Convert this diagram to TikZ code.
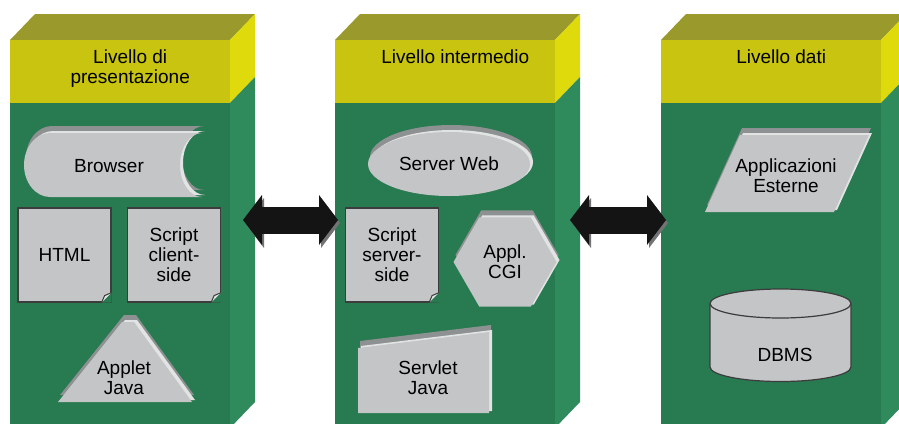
\documentclass[tikz,border=0pt]{standalone}
\usepackage{fontspec}
\setmainfont{Liberation Sans}
\usepackage{xcolor}
\usepackage{tikz}
\usetikzlibrary{arrows, arrows.meta}
\usetikzlibrary{positioning}
\usetikzlibrary{calc}
\usetikzlibrary{shapes.geometric}

\definecolor{topOlive}{HTML}{9A9A2C}
\definecolor{headYellow}{HTML}{C8C410}
\definecolor{sideYellow}{HTML}{DEDA0C}
\definecolor{bodyGreen}{HTML}{287A50}
\definecolor{sideGreen}{HTML}{2F8A5C}
\definecolor{shapeGray}{HTML}{C3C5C6}
\definecolor{shadeDark}{HTML}{8E9192}
\definecolor{shadeLight}{HTML}{E2E4E4}
\definecolor{edgeGray}{HTML}{3C3C3C}

\begin{document}
\begin{tikzpicture}[x=1pt, y=-1pt,
	every node/.style={font=\fontsize{19}{20}\selectfont, align=center, inner sep=0pt},
	face/.style={draw=none, minimum width=220pt, anchor=north west},
	raised/.style={fill=shapeGray,
		preaction={fill=shadeDark, transform canvas={shift={(2pt,7pt)}}},
		preaction={fill=shadeLight, transform canvas={shift={(3pt,2pt)}}}},
	docbox/.style={draw=edgeGray, line width=1.2pt, fill=shapeGray, minimum width=93pt, minimum height=94pt},
	link/.style={line width=27pt, draw=black!92,
		{Triangle[length=19pt, width=50pt, line width=0pt]}-{Triangle[length=19pt, width=50pt, line width=0pt]},
		preaction={draw=black!55, transform canvas={shift={(2pt,-3pt)}}}}]
			\useasboundingbox (0,0) rectangle (899,423);
			\clip (0,0) rectangle (899,423);

			\foreach \xTier [count=\iTier] in {10, 335, 661}
			{
				\fill[topOlive] (\xTier,40) -- ++(25,-26) -- ++(220,0) -- ++(-25,26) -- cycle;
				\fill[sideYellow] (\xTier+220,40) -- ++(25,-26) -- ++(0,63) -- ++(-25,26) -- cycle;
				\fill[sideGreen] (\xTier+220,103) -- ++(25,-26) -- ++(0,325) -- ++(-25,26) -- cycle;
				\node[face, fill=headYellow, minimum height=63pt] (head\iTier) at (\xTier,40) {};
				\node[face, fill=bodyGreen, minimum height=330pt] (tier\iTier) at (\xTier,103) {};
			}
			\foreach \iTier/\tTitle in {1/{Livello di\\presentazione}, 2/{Livello intermedio}, 3/{Livello dati}}
			{
				\node[anchor=north] (title\iTier) at ([xshift=10pt, yshift=-10pt]head\iTier.north) {\tTitle};
			}

			\path[raised] (50,133) -- (202,133) arc[start angle=270, end angle=90, x radius=22, y radius=32]
				-- (50,197) arc[start angle=90, end angle=270, x radius=26, y radius=32] -- cycle;
			\node (browser) at (109,166) {Browser};
			\node[docbox] (html) at (64.5,255) {HTML};
			\node[docbox] (clientscript) at (174,255) {Script\\client-\\side};
			\path[raised] (58,402) -- (122,322) -- (134,322) -- (192,402) -- cycle;
			\node (applet) at (124,378) {Applet\\Java};

			\node[ellipse, raised, minimum width=162pt, minimum height=64pt] (webserver) at (449,164) {Server Web};
			\node[docbox] (serverscript) at (392,255) {Script\\server-\\side};
			\node[regular polygon, regular polygon sides=6, minimum size=103pt, raised] (cgi) at (505,262) {Appl.\\CGI};
			\path[raised] (358,348) -- (489,332) -- (489,413) -- (358,413) -- cycle;
			\node (servlet) at (428,378) {Servlet\\Java};

			\path[raised] (740,135) -- (869,135) -- (834,212) -- (705,212) -- cycle;
			\node (extapps) at (786,176) {Applicazioni\\Esterne};
			\filldraw[fill=shapeGray, draw=edgeGray, line width=1.2pt] (710,303.5) -- (710,367)
				arc[start angle=180, end angle=0, x radius=70.5, y radius=14.5] -- (851,303.5)
				arc[start angle=0, end angle=-180, x radius=70.5, y radius=14.5] -- cycle;
			\draw[edgeGray, line width=1.2pt] (710,303.5) arc[start angle=180, end angle=0, x radius=70.5, y radius=14.5];
			\node (dbms) at (785,355) {DBMS};

			\foreach \iDoc in {html, clientscript, serverscript}
			{
				\fill[bodyGreen] ([xshift=-10pt]\iDoc.south east) -- (\iDoc.south east) -- ([yshift=10pt]\iDoc.south east) -- cycle;
				\filldraw[fill=shadeLight, draw=edgeGray, line width=1pt] ([xshift=-10pt]\iDoc.south east) -- ([xshift=-7pt, yshift=7pt]\iDoc.south east) -- ([yshift=10pt]\iDoc.south east);
			}

			\coordinate (link1a) at (243,220);
			\coordinate (link1b) at (338,220);
			\coordinate (link2a) at (570,220);
			\coordinate (link2b) at (666,220);
			\draw[link] (link1a) -- (link1b);
			\draw[link] (link2a) -- (link2b);
		\end{tikzpicture}
\end{document}
